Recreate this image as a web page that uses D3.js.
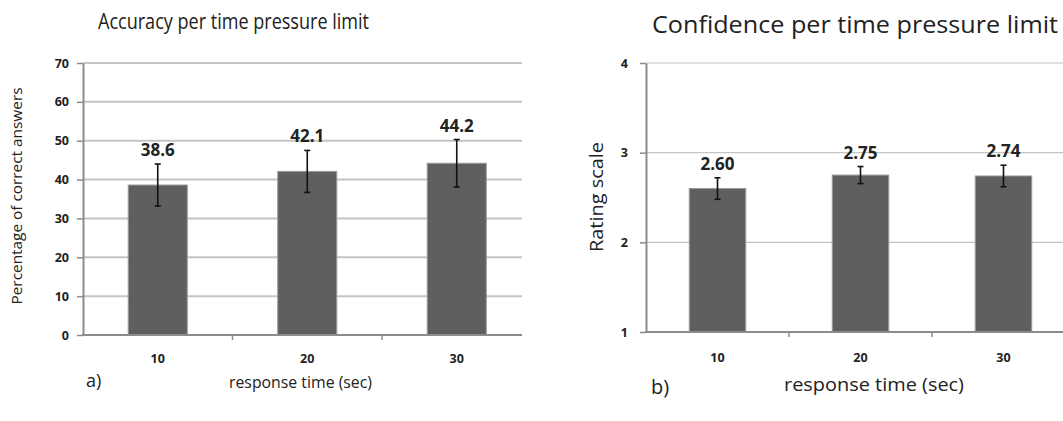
<html>
<head>
<script src="https://d3js.org/d3.v7.min.js"></script>
<style>
    body { margin: 0; background: white; }
    text { font-family: "Open Sans", "Liberation Sans", sans-serif; fill: #222; }
    .grid { stroke: #c4c4c4; }
    .axisline { stroke: #8c8c8c; stroke-width: 2px; fill: none; }
    .bar { fill: #5f5f5f; stroke: #9a9a9a; stroke-width: 1px; }
    .err { stroke: #111; stroke-width: 1.6px; }
    .val { font-weight: bold; font-size: 17px; text-anchor: middle; }
    .tick-label { font-weight: bold; font-size: 12.5px; }
</style>
</head>
<body>
<svg id="chart" width="1063" height="421"></svg>
<script>
    //response time categories
    const times = ["10", "20", "30"];

    //panel a) accuracy
    const accuracy = [38.6, 42.1, 44.2];
    const accuracyErr = [5.4, 5.4, 6.1];
    const accuracyTicks = [0, 10, 20, 30, 40, 50, 60, 70];

    //panel b) confidence
    const confidence = [2.60, 2.75, 2.74];
    const confidenceErr = [0.12, 0.095, 0.12];
    const confidenceTicks = [1, 2, 3, 4];

    const svg = d3.select("#chart");

    function drawPanel(p) {
        const g = svg.append("g");
        const rows = p.cats.map((c, i) => ({ cat: c, v: p.values[i], e: p.errs[i] }));

        const y = d3.scaleLinear().domain(p.domain).range([p.bottom, p.top]);
        //category slots (for the tick marks) and the narrower bars
        const xSlot = d3.scaleBand().domain(p.cats).range([p.left, p.right]);
        const xBar = d3.scaleBand().domain(p.cats).range([p.left, p.right])
            .paddingInner(0.605).paddingOuter(0.3025);

        //gridlines
        g.selectAll("line.grid").data(p.ticks.filter(t => t != p.domain[0]))
            .join("line")
            .attr("class", "grid")
            .attr("x1", p.left).attr("x2", p.gridEnd)
            .attr("y1", d => y(d)).attr("y2", d => y(d))
            .style("stroke-width", p.gridWidth);

        //y axis with small ticks on the left
        const yAxis = g.append("g")
            .attr("transform", "translate(" + p.left + ",0)")
            .call(d3.axisLeft(y).tickValues(p.ticks).tickFormat(d3.format("d"))
                .tickSize(6).tickSizeOuter(0).tickPadding(p.tickPad));
        yAxis.select(".domain").attr("class", "axisline");
        yAxis.selectAll(".tick line").attr("stroke", "#8c8c8c").attr("stroke-width", 1.5);
        yAxis.selectAll(".tick text").attr("class", "tick-label").attr("fill", "#222");

        //bars
        g.selectAll("rect.bar").data(rows)
            .join("rect")
            .attr("class", "bar")
            .attr("x", d => xBar(d.cat))
            .attr("width", xBar.bandwidth())
            .attr("y", d => y(d.v))
            .attr("height", d => y(p.domain[0]) - y(d.v));

        //error bars
        const cx = d => xBar(d.cat) + xBar.bandwidth() / 2;
        g.selectAll("line.errv").data(rows).join("line")
            .attr("class", "err")
            .attr("x1", cx).attr("x2", cx)
            .attr("y1", d => y(d.v + d.e)).attr("y2", d => y(d.v - d.e));
        [1, -1].forEach(s => {
            g.selectAll("line.cap" + s).data(rows).join("line")
                .attr("class", "err")
                .attr("x1", d => cx(d) - 3).attr("x2", d => cx(d) + 3)
                .attr("y1", d => y(d.v + s * d.e)).attr("y2", d => y(d.v + s * d.e));
        });

        //value labels
        g.selectAll("text.val").data(rows).join("text")
            .attr("class", "val")
            .attr("x", cx)
            .attr("y", d => y(d.v + d.e) - 8)
            .text(d => p.fmt(d.v));

        //x axis line and slot ticks
        g.append("line").attr("class", "axisline")
            .attr("x1", p.left - 1).attr("x2", p.gridEnd)
            .attr("y1", p.bottom).attr("y2", p.bottom);
        g.selectAll("line.xtick").data(p.cats.slice(1)).join("line")
            .attr("stroke", "#8c8c8c").attr("stroke-width", 1.5)
            .attr("x1", d => xSlot(d)).attr("x2", d => xSlot(d))
            .attr("y1", p.bottom).attr("y2", p.bottom + 5);
        g.selectAll("text.xlab").data(p.cats).join("text")
            .attr("class", "tick-label")
            .attr("text-anchor", "middle")
            .attr("x", d => xSlot(d) + xSlot.bandwidth() / 2)
            .attr("y", p.xLabelY)
            .text(d => d);

        //titles
        g.append("text")
            .attr("x", p.titleX).attr("y", p.titleY)
            .attr("textLength", p.titleLen).attr("lengthAdjust", "spacingAndGlyphs")
            .style("font-size", p.titleSize + "px")
            .text(p.title);
        g.append("text")
            .attr("transform", "translate(" + p.yTitleX + "," + p.yTitleY + ") rotate(-90)")
            .attr("text-anchor", "middle")
            .attr("textLength", p.yTitleLen).attr("lengthAdjust", "spacingAndGlyphs")
            .style("font-size", p.yTitleSize + "px")
            .text(p.yTitle);
        g.append("text")
            .attr("x", p.xTitleX).attr("y", p.xTitleY)
            .attr("textLength", p.xTitleLen).attr("lengthAdjust", "spacingAndGlyphs")
            .style("font-size", p.xTitleSize + "px")
            .text("response time (sec)");
        g.append("text")
            .attr("x", p.tagX).attr("y", p.tagY)
            .style("font-size", p.xTitleSize + 2 + "px")
            .text(p.tag);
    }

    drawPanel({
        cats: times, values: accuracy, errs: accuracyErr, ticks: accuracyTicks,
        domain: [0, 70], fmt: d3.format(".1f"),
        left: 83, right: 531.5, gridEnd: 522, top: 63, bottom: 335, gridWidth: 2, tickPad: 8,
        xLabelY: 363,
        title: "Accuracy per time pressure limit", titleX: 98, titleY: 29, titleLen: 271, titleSize: 22,
        yTitle: "Percentage of correct answers", yTitleX: 22, yTitleY: 196, yTitleLen: 217, yTitleSize: 14,
        xTitleX: 229, xTitleY: 388, xTitleLen: 143, xTitleSize: 16,
        tag: "a)", tagX: 86, tagY: 387
    });

    drawPanel({
        cats: times, values: confidence, errs: confidenceErr, ticks: confidenceTicks,
        domain: [1, 4], fmt: d3.format(".2f"),
        left: 646, right: 1075, gridEnd: 1063, top: 63, bottom: 332, gridWidth: 1.2, tickPad: 12,
        xLabelY: 362,
        title: "Confidence per time pressure limit", titleX: 652, titleY: 33, titleLen: 406, titleSize: 23,
        yTitle: "Rating scale", yTitleX: 603, yTitleY: 197, yTitleLen: 110, yTitleSize: 18,
        xTitleX: 784, xTitleY: 391, xTitleLen: 180, xTitleSize: 18,
        tag: "b)", tagX: 651, tagY: 394
    });
</script>
</body>
</html>
